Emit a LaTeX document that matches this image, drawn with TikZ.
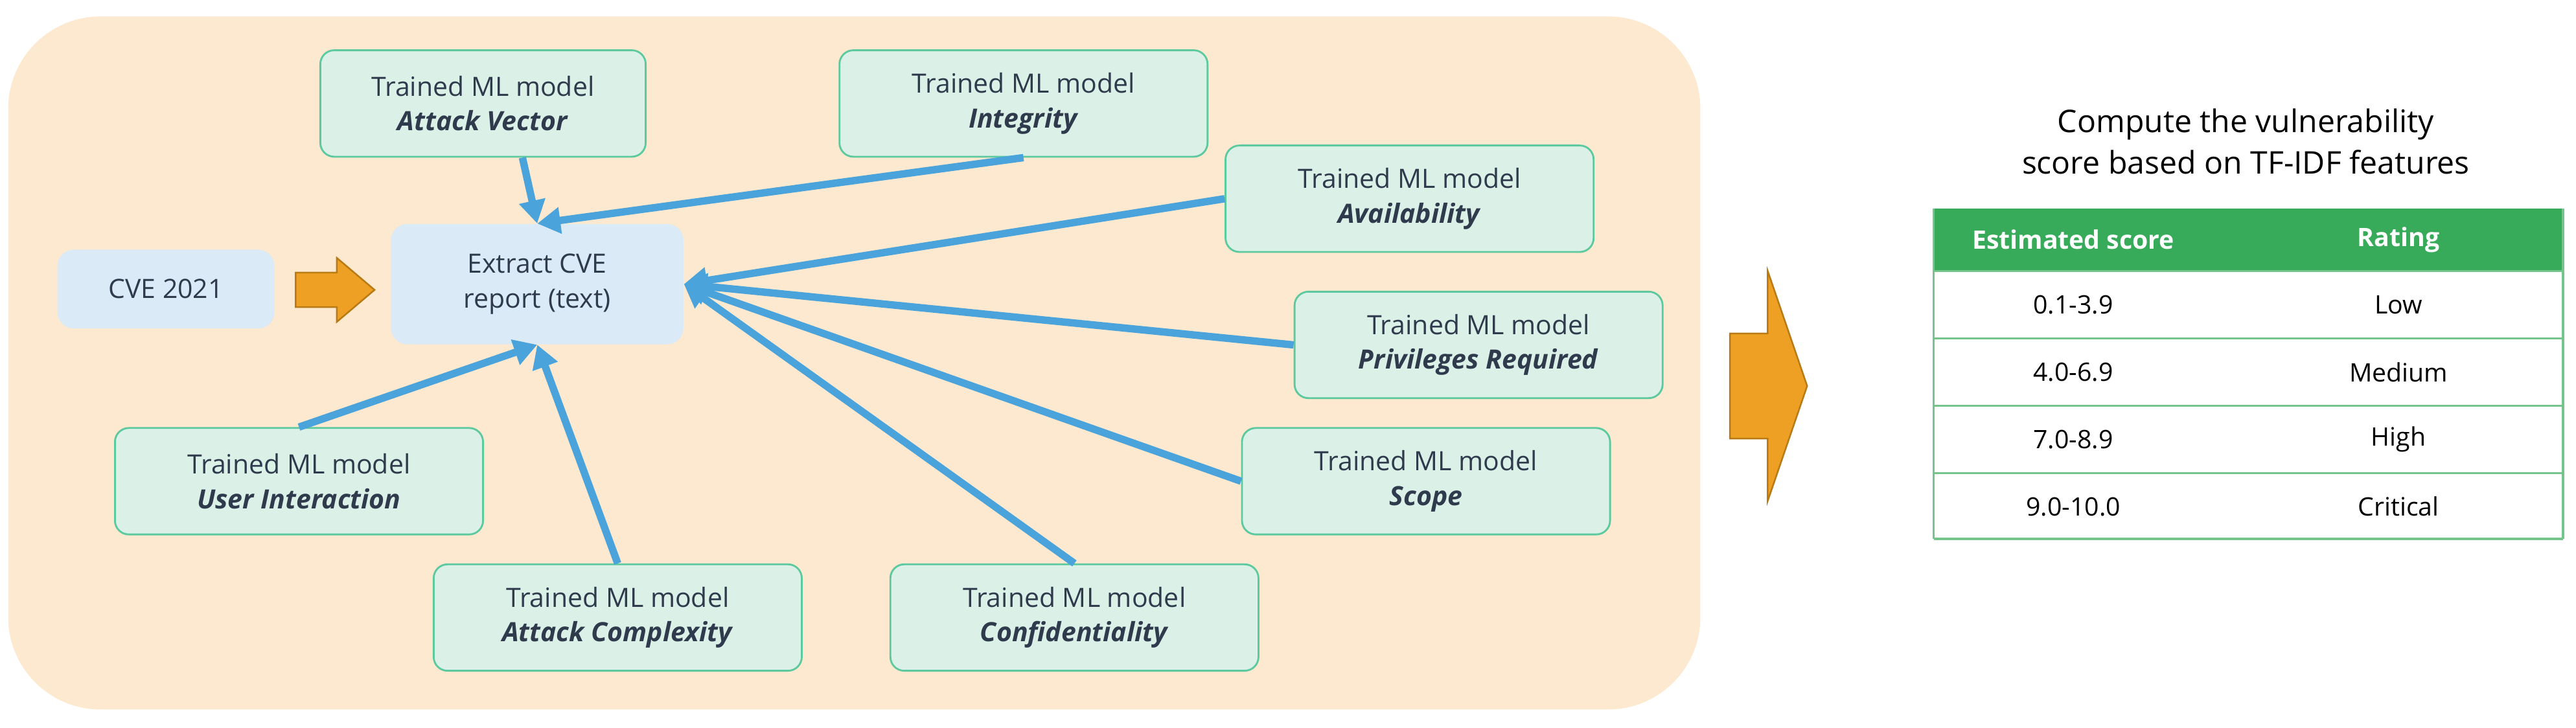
\documentclass[tikz,border=0pt]{standalone}
\usepackage{fontspec}
\setmainfont{Open Sans}
\usetikzlibrary{arrows.meta}
\definecolor{peach}{HTML}{FCE9CF}
\definecolor{paleblue}{HTML}{DAEAF6}
\definecolor{mintfill}{HTML}{DBF1E8}
\definecolor{mintline}{HTML}{5CC99E}
\definecolor{flowblue}{HTML}{4AA3DB}
\definecolor{tabgreen}{HTML}{38AB5A}
\definecolor{inkgray}{HTML}{2F3B4C}
\definecolor{ambar}{HTML}{EDA023}
\definecolor{ambarline}{HTML}{B97A14}
\tikzset{
    model/.style={draw=mintline, fill=mintfill, rounded corners=6pt, line width=0.8pt,
        minimum width=5.6cm, minimum height=1.62cm, align=center, text=inkgray,
        font=\fontsize{11.5}{15}\selectfont},
    stage/.style={fill=paleblue, rounded corners=7pt, align=center, text=inkgray,
        font=\fontsize{11.5}{15}\selectfont},
    feed/.style={-{Triangle[length=10pt,width=11pt]}, draw=flowblue, line width=3.2pt},
    blockarrow/.style={fill=ambar, draw=ambarline, line width=0.7pt, line join=miter},
    cell/.style={text=black, font=\fontsize{11}{13}\selectfont},
}
\newcommand{\mdl}[1]{Trained ML model\\\textbf{\textit{#1}}}
\begin{document}
\begin{tikzpicture}[x=0.025cm, y=-0.025cm]
    \useasboundingbox (0,0) rectangle (1568,443);
    \path[fill=peach, rounded corners=40pt] (5,10) rectangle (1035,432);

    \node[stage, minimum width=3.3cm, minimum height=1.2cm] (cve) at (101,176) {CVE 2021};
    \node[stage, minimum width=4.45cm, minimum height=1.83cm] (extract) at (327,173) {Extract CVE\\report (text)};
    \draw[blockarrow] (180,166) -- (205,166) -- (205,157) -- (228,176.5) -- (205,196) -- (205,187) -- (180,187) -- cycle;

    \node[model, minimum width=4.95cm] (av) at (294,63) {\mdl{Attack Vector}};
    \node[model] (integ) at (623,63) {\mdl{Integrity}};
    \node[model] (avail) at (858,121) {\mdl{Availability}};
    \node[model] (priv) at (900,210) {\mdl{Privileges Required}};
    \node[model] (scope) at (868,293) {\mdl{Scope}};
    \node[model] (conf) at (654,376) {\mdl{Confidentiality}};
    \node[model] (acomp) at (376,376) {\mdl{Attack Complexity}};
    \node[model] (user) at (182,293) {\mdl{User Interaction}};

    \draw[feed] (av.south) ++(24,0) coordinate (avs) -- (extract.north);
    \draw[feed] (integ.south) -- (extract.north);
    \draw[feed] (avail.west) -- (extract.east);
    \draw[feed] (priv.west) -- (extract.east);
    \draw[feed] (scope.west) -- (extract.east);
    \draw[feed] (conf.north) -- (extract.east);
    \draw[feed] (acomp.north) -- (extract.south);
    \draw[feed] (user.north) -- (extract.south);

    % result side
    \draw[blockarrow] (1053,203) -- (1076,203) -- (1076,165) -- (1100,235) -- (1076,305) -- (1076,267) -- (1053,267) -- cycle;
    \node[align=center, text=black, font=\fontsize{13.5}{18}\selectfont] (title) at (1367,86)
        {Compute the vulnerability\\score based on TF-IDF features};

    \fill[tabgreen] (1177,127) rectangle (1560,165);
    \foreach \y in {165,206,247,288,328}
        \draw[tabgreen!70, line width=1pt] (1177,\y) -- (1560,\y);
    \draw[tabgreen!70, line width=1pt] (1177,127) -- (1177,328) (1560,127) -- (1560,328);
    \node[text=white, font=\bfseries\fontsize{11}{13}\selectfont] (hscore) at (1262,146) {Estimated score};
    \node[text=white, font=\bfseries\fontsize{11}{13}\selectfont] (hrate) at (1460,146) {Rating};
    \foreach \s/\r [count=\i] in {0.1-3.9/Low, 4.0-6.9/Medium, 7.0-8.9/High, 9.0-10.0/Critical}{
        \node[cell] (s\i) at (1262,144.5+41*\i) {\s};
        \node[cell] (r\i) at (1460,144.5+41*\i) {\r};
    }
\end{tikzpicture}
\end{document}
